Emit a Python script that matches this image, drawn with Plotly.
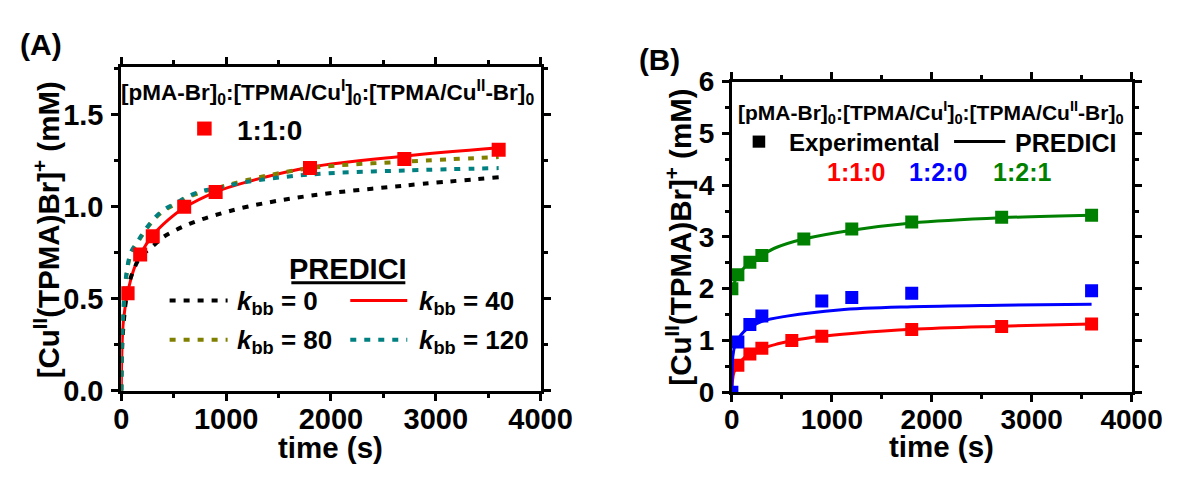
import plotly.graph_objects as go

# The page adds an 8 px body margin; figure sized so the page is 1196 px wide.
OFF = 8
W, H = 1196 - 2 * OFF, 478 - OFF
FONT = "Liberation Sans, Arial, sans-serif"

# ---------------- data ----------------
# Panel A : experimental, ratio 1:1:0
a_exp_t = [60, 180, 300, 600, 900, 1800, 2700, 3600]
a_exp_v = [0.53, 0.74, 0.84, 1.00, 1.08, 1.21, 1.26, 1.31]

# Panel A : PREDICI simulations for several k_bb
kbb0_t = [0, 5, 20, 60, 100, 180, 300, 400, 520, 650, 770, 900, 1200, 1800, 2700, 3600]
kbb0_v = [0, 0.18, 0.35, 0.55, 0.63, 0.725, 0.785, 0.835, 0.873, 0.907, 0.932, 0.955, 1.00, 1.06, 1.115, 1.16]

kbb40_t = [0, 5, 20, 60, 120, 180, 300, 450, 600, 900, 1200, 1800, 2700, 3600]
kbb40_v = [0, 0.20, 0.38, 0.53, 0.66, 0.74, 0.845, 0.93, 0.995, 1.08, 1.135, 1.215, 1.275, 1.32]

kbb80_t = [0, 5, 20, 45, 90, 165, 235, 320, 410, 520, 650, 770, 900, 1200, 1800, 2700, 3600]
kbb80_v = [0, 0.24, 0.44, 0.61, 0.74, 0.815, 0.875, 0.935, 0.98, 1.015, 1.055, 1.08, 1.10, 1.145, 1.21, 1.245, 1.27]

kbb120_t = [0, 5, 20, 45, 90, 165, 235, 320, 410, 520, 650, 770, 900, 1200, 1800, 2700, 3600]
kbb120_v = [0, 0.25, 0.45, 0.62, 0.75, 0.82, 0.88, 0.94, 0.985, 1.02, 1.06, 1.085, 1.10, 1.135, 1.175, 1.197, 1.21]

# Panel B : experimental
b_red_t = [60, 180, 300, 600, 900, 1800, 2700, 3600]
b_red_v = [0.52, 0.74, 0.85, 1.00, 1.08, 1.21, 1.27, 1.32]
b_blue_t = [0, 60, 180, 300, 900, 1200, 1800, 3600]
b_blue_v = [0.0, 0.97, 1.31, 1.47, 1.76, 1.83, 1.91, 1.96]
b_green_t = [0, 60, 180, 300, 720, 1200, 1800, 2700, 3600]
b_green_v = [2.0, 2.27, 2.51, 2.64, 2.96, 3.15, 3.29, 3.38, 3.42]

# Panel B : PREDICI
b_red_line_t = [0, 5, 20, 60, 120, 180, 300, 450, 600, 900, 1200, 1800, 2700, 3600]
b_red_line_v = [0, 0.20, 0.38, 0.53, 0.66, 0.74, 0.845, 0.93, 0.995, 1.08, 1.135, 1.215, 1.275, 1.32]
b_blue_line_t = [0, 3, 10, 30, 60, 120, 180, 300, 550, 1070, 1800, 2700, 3600]
b_blue_line_v = [0, 0.40, 0.70, 0.90, 1.02, 1.17, 1.25, 1.37, 1.47, 1.59, 1.65, 1.68, 1.70]
b_green_line_t = [0, 20, 60, 120, 180, 300, 450, 720, 1200, 1800, 2700, 3600]
b_green_line_v = [2.0, 2.10, 2.25, 2.40, 2.50, 2.65, 2.80, 2.96, 3.13, 3.27, 3.37, 3.42]

x_ticks = [0, 1000, 2000, 3000, 4000]
a_y_ticks = [0.0, 0.5, 1.0, 1.5]
b_y_ticks = [0, 1, 2, 3, 4, 5, 6]

RED, BLUE, GREEN = "#ff0000", "#0000ff", "#008000"
OLIVE, TEAL = "#808000", "#008080"
DOT = "6px,8px"


def px(x):
    return (x - OFF) / W


def py(y):
    return 1 - (y - OFF) / H


fig = go.Figure()

# ---- panel A traces ----
fig.add_trace(go.Scatter(x=kbb40_t, y=kbb40_v, mode="lines", line=dict(color=RED, width=3),
                         xaxis="x", yaxis="y", line_shape="spline"))
fig.add_trace(go.Scatter(x=kbb0_t, y=kbb0_v, mode="lines", line=dict(color="black", width=4, dash=DOT),
                         xaxis="x", yaxis="y", line_shape="spline"))
fig.add_trace(go.Scatter(x=kbb80_t, y=kbb80_v, mode="lines", line=dict(color=OLIVE, width=4, dash=DOT),
                         xaxis="x", yaxis="y", line_shape="spline"))
fig.add_trace(go.Scatter(x=kbb120_t, y=kbb120_v, mode="lines", line=dict(color=TEAL, width=4, dash=DOT),
                         xaxis="x", yaxis="y", line_shape="spline"))
fig.add_trace(go.Scatter(x=a_exp_t, y=a_exp_v, mode="markers",
                         marker=dict(symbol="square", size=14, color=RED, line=dict(width=0)),
                         xaxis="x", yaxis="y"))

# ---- panel B traces ----
for lt, lv, mt, mv, c in [
    (b_red_line_t, b_red_line_v, b_red_t, b_red_v, RED),
    (b_blue_line_t, b_blue_line_v, b_blue_t, b_blue_v, BLUE),
    (b_green_line_t, b_green_line_v, b_green_t, b_green_v, GREEN),
]:
    fig.add_trace(go.Scatter(x=lt, y=lv, mode="lines", line=dict(color=c, width=3),
                             xaxis="x2", yaxis="y2", line_shape="spline"))
    fig.add_trace(go.Scatter(x=mt, y=mv, mode="markers",
                             marker=dict(symbol="square", size=13, color=c, line=dict(width=0)),
                             xaxis="x2", yaxis="y2"))


def axis(domain, rng, tickvals, fmt, minor_dtick, anchor, size, standoff):
    return dict(
        domain=domain, range=rng, tickvals=tickvals, tickformat=fmt,
        showline=True, linecolor="black", linewidth=3, mirror="ticks",
        ticks="outside", ticklen=7, tickwidth=3, tickcolor="black",
        minor=dict(ticks="outside", ticklen=4, tickwidth=2.5, tickcolor="black",
                   dtick=minor_dtick, tick0=0, showgrid=False),
        showgrid=False, zeroline=False, anchor=anchor, fixedrange=True,
        ticklabelstandoff=standoff,
        tickfont=dict(family=FONT, size=size, color="black", weight="bold"),
    )


fig.update_layout(
    width=W, height=H, margin=dict(l=0, r=0, t=0, b=0),
    paper_bgcolor="white", plot_bgcolor="white", showlegend=False,
    xaxis=axis([px(117), px(551)], [0, 4000], x_ticks, "d", 500, "y", 29, -7),
    yaxis=axis([py(401.7), py(55)], [0, 1.76], a_y_ticks, ".1f", 0.25, "x", 29, 2),
    xaxis2=axis([px(749), px(1162.7)], [0, 4000], x_ticks, "d", 500, "y2", 28, -7),
    yaxis2=axis([py(403.3), py(70.7)], [0, 6], b_y_ticks, "d", 0.5, "x2", 28, 2),
)

anns = []


def text(x, y, s, size, color="black", xanchor="center", angle=0):
    anns.append(dict(x=px(x), y=py(y), xref="paper", yref="paper", text=s, showarrow=False,
                     xanchor=xanchor, yanchor="middle", textangle=angle,
                     font=dict(family=FONT, size=size, color=color, weight="bold")))


HEADER = "[pMA-Br]<sub>0</sub>:[TPMA/Cu<sup>I</sup>]<sub>0</sub>:[TPMA/Cu<sup>II</sup>-Br]<sub>0</sub>"
YTITLE = "[Cu<sup>II</sup>(TPMA)Br]<sup>+</sup> (mM)"

# panel A texts
text(10, 31, "(A)", 30, xanchor="left")
text(330, 82, HEADER, 22.5)
text(235, 123, "1:1:0", 28, xanchor="left")
text(352, 271, "PREDICI", 29)
text(235, 307, "<i>k</i><sub>bb</sub> = 0", 26, xanchor="left")
text(423, 307, "<i>k</i><sub>bb</sub> = 40", 26, xanchor="left")
text(235, 349, "<i>k</i><sub>bb</sub> = 80", 26, xanchor="left")
text(423, 349, "<i>k</i><sub>bb</sub> = 120", 26, xanchor="left")
text(39, 229, YTITLE, 29.5, angle=-90)
text(334, 462, "time (s)", 29.5)

# panel B texts
text(651, 47, "(B)", 29.5, xanchor="left")
text(955, 104, HEADER, 21)
text(806, 136, "Experimental", 24, xanchor="left")
text(1040, 136, "PREDICI", 25, xanchor="left")
text(877, 168, "1:1:0", 25, color=RED)
text(962, 168, "1:2:0", 25, color=BLUE)
text(1049, 168, "1:2:1", 25, color=GREEN)
text(694, 237, YTITLE, 29.5, angle=-90)
text(966, 461, "time (s)", 29.5)

shapes = []


def hline(x0, x1, y, color, width, dash="solid"):
    shapes.append(dict(type="line", xref="paper", yref="paper", x0=px(x0), x1=px(x1),
                       y0=py(y), y1=py(y), line=dict(color=color, width=width, dash=dash)))


def square(cx, cy, s, color):
    shapes.append(dict(type="rect", xref="paper", yref="paper", x0=px(cx - s / 2), x1=px(cx + s / 2),
                       y0=py(cy + s / 2), y1=py(cy - s / 2), fillcolor=color, line=dict(width=0)))


square(203, 121, 15, RED)
hline(293, 411, 286, "black", 3)
hline(167, 227, 305, "black", 4, DOT)
hline(354, 413, 305, RED, 3)
hline(167, 227, 347, OLIVE, 4, DOT)
hline(354, 413, 347, TEAL, 4, DOT)

square(777, 135, 13, "black")
hline(979, 1032, 135, "black", 3)

fig.update_layout(annotations=anns, shapes=shapes)
fig.write_html("out.html")
